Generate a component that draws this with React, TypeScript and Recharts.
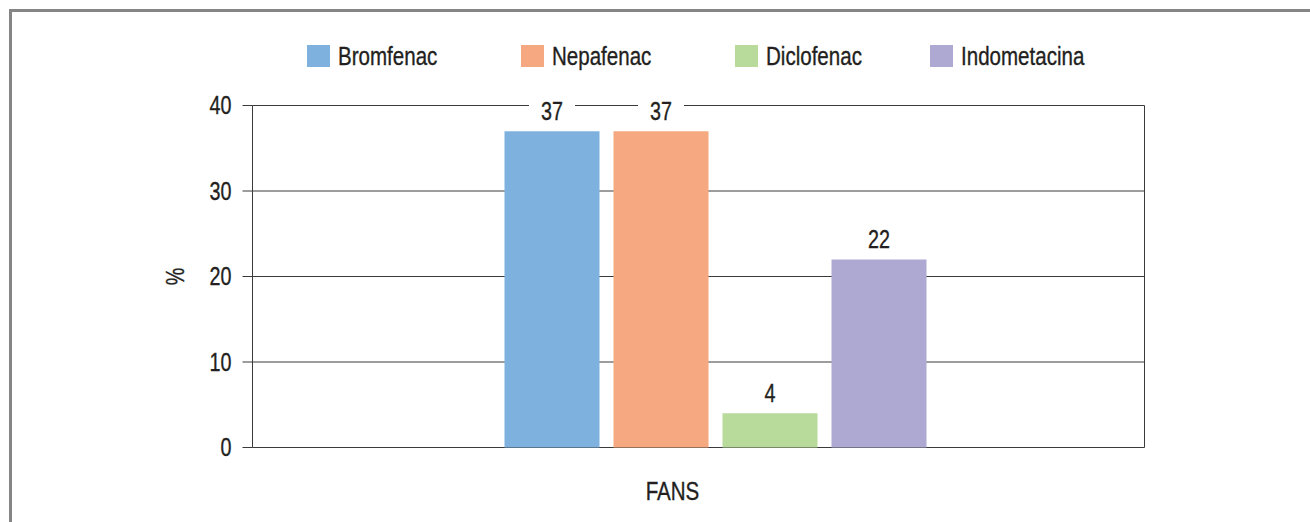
import React from "react";
import { BarChart, Bar, XAxis, YAxis, CartesianGrid, Legend, LabelList } from "recharts";

const categories = ["FANS"];
const seriesNames = ["Bromfenac", "Nepafenac", "Diclofenac", "Indometacina"];
const bromfenac = [37];
const nepafenac = [37];
const diclofenac = [4];
const indometacina = [22];
const yTicks = [0, 10, 20, 30, 40];

const COLORS = ["#7fb1df", "#f6a880", "#b8da9a", "#aea9d2"];
const values = [bromfenac, nepafenac, diclofenac, indometacina];

const data = categories.map((name, i) => {
  const row: Record<string, string | number> = { name };
  seriesNames.forEach((s, k) => {
    row[s] = values[k][i];
  });
  return row;
});

// no condensed face installed: squeeze Liberation Sans horizontally
const FONT = '"Liberation Sans", Arial, sans-serif';
const SQUEEZE = 0.79;
const INK = "#231f20";
const GRID = "#3a3a3a";
const LEGEND_W = [214, 214, 195, 200];

const renderLegend = () => (
  <div
    style={{
      display: "flex",
      paddingLeft: 307,
      fontFamily: FONT,
      fontSize: 26,
      color: INK,
      lineHeight: "28px",
      WebkitTextStroke: "0.35px " + INK,
    }}
  >
    {seriesNames.map((s, k) => (
      <div key={s} style={{ display: "flex", alignItems: "center", width: LEGEND_W[k], flexShrink: 0 }}>
        <span style={{ width: 23, height: 22, background: COLORS[k], display: "inline-block", marginRight: 8, flexShrink: 0 }} />
        <span style={{ display: "inline-block", transform: `scaleX(${SQUEEZE})`, transformOrigin: "left center", whiteSpace: "nowrap" }}>
          {s}
        </span>
      </div>
    ))}
  </div>
);

const squeezed = (x: number, y: number, text: any, size: number, anchor: string, dy: string) => (
  <text
    transform={`translate(${x},${y}) scale(${SQUEEZE},1)`}
    textAnchor={anchor}
    dy={dy}
    fontSize={size}
    fill={INK}
    stroke={INK}
    strokeWidth={0.35}
    fontFamily={FONT}
  >
    {text}
  </text>
);

const YTick = (props: any) => squeezed(Number(props.x), Number(props.y), props.payload.value, 25, "end", "0.355em");

const XTick = (props: any) => squeezed(Number(props.x) - 42.5, Number(props.y), props.payload.value, 26, "middle", "0.71em");

const YLabel = (props: any) => {
  const vb = props.viewBox || {};
  const cx = Number(vb.x) + Number(vb.width) / 2 - 37.5;
  const cy = Number(vb.y) + Number(vb.height) / 2;
  return (
    <text
      transform={`translate(${cx},${cy}) rotate(-90) scale(${SQUEEZE},1)`}
      textAnchor="middle"
      dy="0.355em"
      fontSize={25}
      fill={INK}
      stroke={INK}
      strokeWidth={0.35}
      fontFamily={FONT}
    >
      %
    </text>
  );
};

const renderValue = (props: any) => {
  const { x, y, width, value } = props;
  const cx = Number(x) + Number(width) / 2;
  const base = Number(y) - 11;
  return (
    <g>
      <rect x={cx - 23} y={base - 22} width={46} height={26} fill="#fff" />
      {squeezed(cx, base, value, 25, "middle", "0")}
    </g>
  );
};

export default function App() {
  return (
    <div style={{ position: "relative", width: 1310, height: 522, overflow: "hidden", background: "#fff" }}>
      <style>{"body{margin:0}"}</style>
      <div
        style={{
          position: "absolute",
          left: 9,
          top: 9,
          width: 1400,
          height: 600,
          borderLeft: "3px solid #858585",
          borderTop: "3px solid #858585",
        }}
      />
      <BarChart
        width={1310}
        height={522}
        data={data}
        margin={{ top: 105.5, right: 165.5, bottom: 14.5, left: 172.5 }}
        barSize={95}
        barGap={14}
        style={{ fontFamily: FONT }}
      >
        <XAxis
          xAxisId="edge"
          type="number"
          domain={[0, 1]}
          ticks={[0, 1]}
          tick={false}
          tickSize={11}
          tickLine={{ stroke: GRID }}
          axisLine={false}
          height={0}
        />
        <XAxis
          xAxisId="cat"
          dataKey="name"
          padding={{ left: 33, right: 0 }}
          axisLine={false}
          tickLine={false}
          tickSize={0}
          tickMargin={34}
          height={60}
          tick={<XTick />}
        />
        <YAxis
          domain={[0, 40]}
          ticks={yTicks}
          width={80}
          axisLine={false}
          tickLine={{ stroke: GRID }}
          tickSize={10}
          tickMargin={11}
          tick={<YTick />}
          label={{ value: "%", position: "center", content: <YLabel /> }}
        />
        <CartesianGrid xAxisId="edge" stroke={GRID} />
        <Legend
          verticalAlign="middle"
          align="center"
          layout="horizontal"
          wrapperStyle={{ top: 42, left: 0, width: 1310 }}
          content={renderLegend}
        />
        {seriesNames.map((s, k) => (
          <Bar key={s} xAxisId="cat" dataKey={s} name={s} fill={COLORS[k]} isAnimationActive={false}>
            <LabelList dataKey={s} content={renderValue} />
          </Bar>
        ))}
      </BarChart>
    </div>
  );
}
